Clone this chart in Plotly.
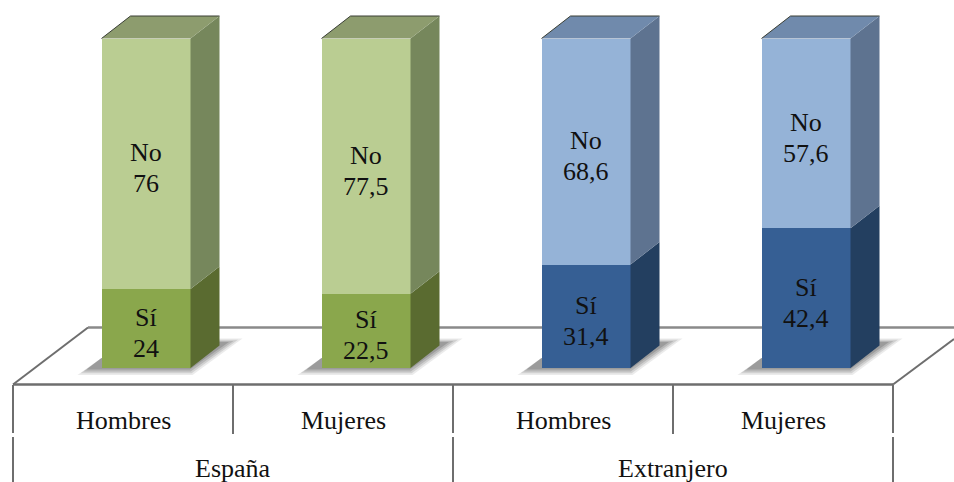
import plotly.graph_objects as go

positions = [0, 1, 2, 3]
genders = ["Hombres", "Mujeres", "Hombres", "Mujeres"]
groups = ["España", "Extranjero"]
si_values = [24, 22.5, 31.4, 42.4]
no_values = [76, 77.5, 68.6, 57.6]
si_labels = ["24", "22,5", "31,4", "42,4"]
no_labels = ["76", "77,5", "68,6", "57,6"]

W, H = 954, 482
X0, XS = 123.0, 220.0      # pixel of category 0, pixels per category
Y0, YS = 368.0, 3.295      # pixel of value 0, pixels per unit


def ux(px):
    return (px - X0) / XS


def uy(py):
    return (Y0 - py) / YS


BAR_W = 89 / XS
BAR_OFF = -21.5 / XS
DX = 29 / XS
DY = 22.5 / YS

FONT = "Liberation Serif"
FSIZE = 26
TEXT = "#111111"
LINE = "#6e6e6e"

front_no = ["#BACD92", "#BACD92", "#95B3D7", "#95B3D7"]
front_si = ["#8AA74C", "#8AA74C", "#365F94", "#365F94"]
side_no = ["#76875C", "#76875C", "#5E7390", "#5E7390"]
side_si = ["#5A6B30", "#5A6B30", "#233F60", "#233F60"]
top_no = ["#8D9C6E", "#8D9C6E", "#708AAC", "#708AAC"]

shapes = []


def seg(x0, y0, x1, y1, width=2, color=LINE):
    shapes.append(dict(type="line", xref="x", yref="y", layer="below",
                       x0=ux(x0), y0=uy(y0), x1=ux(x1), y1=uy(y1),
                       line=dict(color=color, width=width)))


# floor
seg(13, 384.5, 893, 384.5, 2.5)
seg(13, 384.5, 88, 327.5, 2)
seg(88, 327.5, 954, 327.5, 2.5, "#8a8a8a")
seg(893, 384.5, 954, 339, 2)
# table separators
for px in (13, 893, 453):
    seg(px, 385, px, 433, 2)
    seg(px, 437, px, 482, 2)
for px in (233, 673):
    seg(px, 385, px, 434, 2)

# soft shadows under the bars
for p in positions:
    left = p + BAR_OFF
    right = left + BAR_W
    for inset, alpha in ((0, 0.10), (3, 0.14), (6, 0.18), (9, 0.22)):
        xs = [left - (24 - inset) / XS, right + (2 - inset * 0.3) / XS,
              right + (52 - inset * 1.5) / XS, right + (30 - inset) / XS, left]
        ys = [uy(375 - inset * 0.6), uy(375 - inset * 0.6),
              uy(338.5 + inset * 0.4), uy(338.5 + inset * 0.4), uy(358)]
        path = "M " + " L ".join(f"{a},{b}" for a, b in zip(xs, ys)) + " Z"
        shapes.append(dict(type="path", xref="x", yref="y", layer="below",
                           path=path, fillcolor=f"rgba(60,60,60,{alpha})",
                           line=dict(width=0)))

fig = go.Figure()

fig.add_trace(go.Bar(
    x=positions, y=si_values, width=BAR_W, offset=BAR_OFF,
    marker=dict(color=front_si, line=dict(width=0)), hoverinfo="skip"))
fig.add_trace(go.Bar(
    x=positions, y=no_values, width=BAR_W, offset=BAR_OFF,
    marker=dict(color=front_no, line=dict(width=0)), hoverinfo="skip"))


def poly(xs, ys, color):
    fig.add_trace(go.Scatter(x=xs, y=ys, mode="lines", fill="toself",
                             fillcolor=color, line=dict(width=0, color=color),
                             hoverinfo="skip"))


annotations = []


def label(x, y, text, yshift=0):
    annotations.append(dict(x=x, y=y, text=text, showarrow=False, xref="x", yref="y",
                            yshift=yshift, font=dict(family=FONT, size=FSIZE, color=TEXT)))


for i, p in enumerate(positions):
    right = p + BAR_OFF + BAR_W
    left = p + BAR_OFF
    centre = (left + right) / 2
    s = si_values[i]
    t = si_values[i] + no_values[i]
    poly([right, right + DX, right + DX, right, right], [0, DY, s + DY, s, 0], side_si[i])
    poly([right, right + DX, right + DX, right, right], [s, s + DY, t + DY, t, s], side_no[i])
    poly([left, left + DX, right + DX, right, left], [t, t + DY, t + DY, t, t], top_no[i])
    fig.add_trace(go.Scatter(x=[left, left + DX, right + DX], y=[t, t + DY, t + DY],
                             mode="lines", line=dict(color="#3a3f35", width=1),
                             hoverinfo="skip"))
    label(centre, s / 2, "Sí", 11)
    label(centre, s / 2, si_labels[i], -20)
    label(centre, s + no_values[i] / 2, "No", 11)
    label(centre, s + no_values[i] / 2, no_labels[i], -20)

for p, g in zip(positions, genders):
    label(p, uy(420), g)
for xc, g in zip((0.5, 2.5), groups):
    label(xc, uy(468), g)

fig.update_layout(
    width=W, height=H, barmode="stack", showlegend=False,
    margin=dict(l=0, r=0, t=0, b=0),
    paper_bgcolor="white", plot_bgcolor="white",
    xaxis=dict(range=[ux(0), ux(W)], visible=False, fixedrange=True),
    yaxis=dict(range=[uy(H), uy(0)], visible=False, fixedrange=True),
    shapes=shapes, annotations=annotations)

fig.write_html("out.html", config=dict(displayModeBar=False),
               post_script="document.body.style.margin='0';document.body.style.overflow='hidden';")
